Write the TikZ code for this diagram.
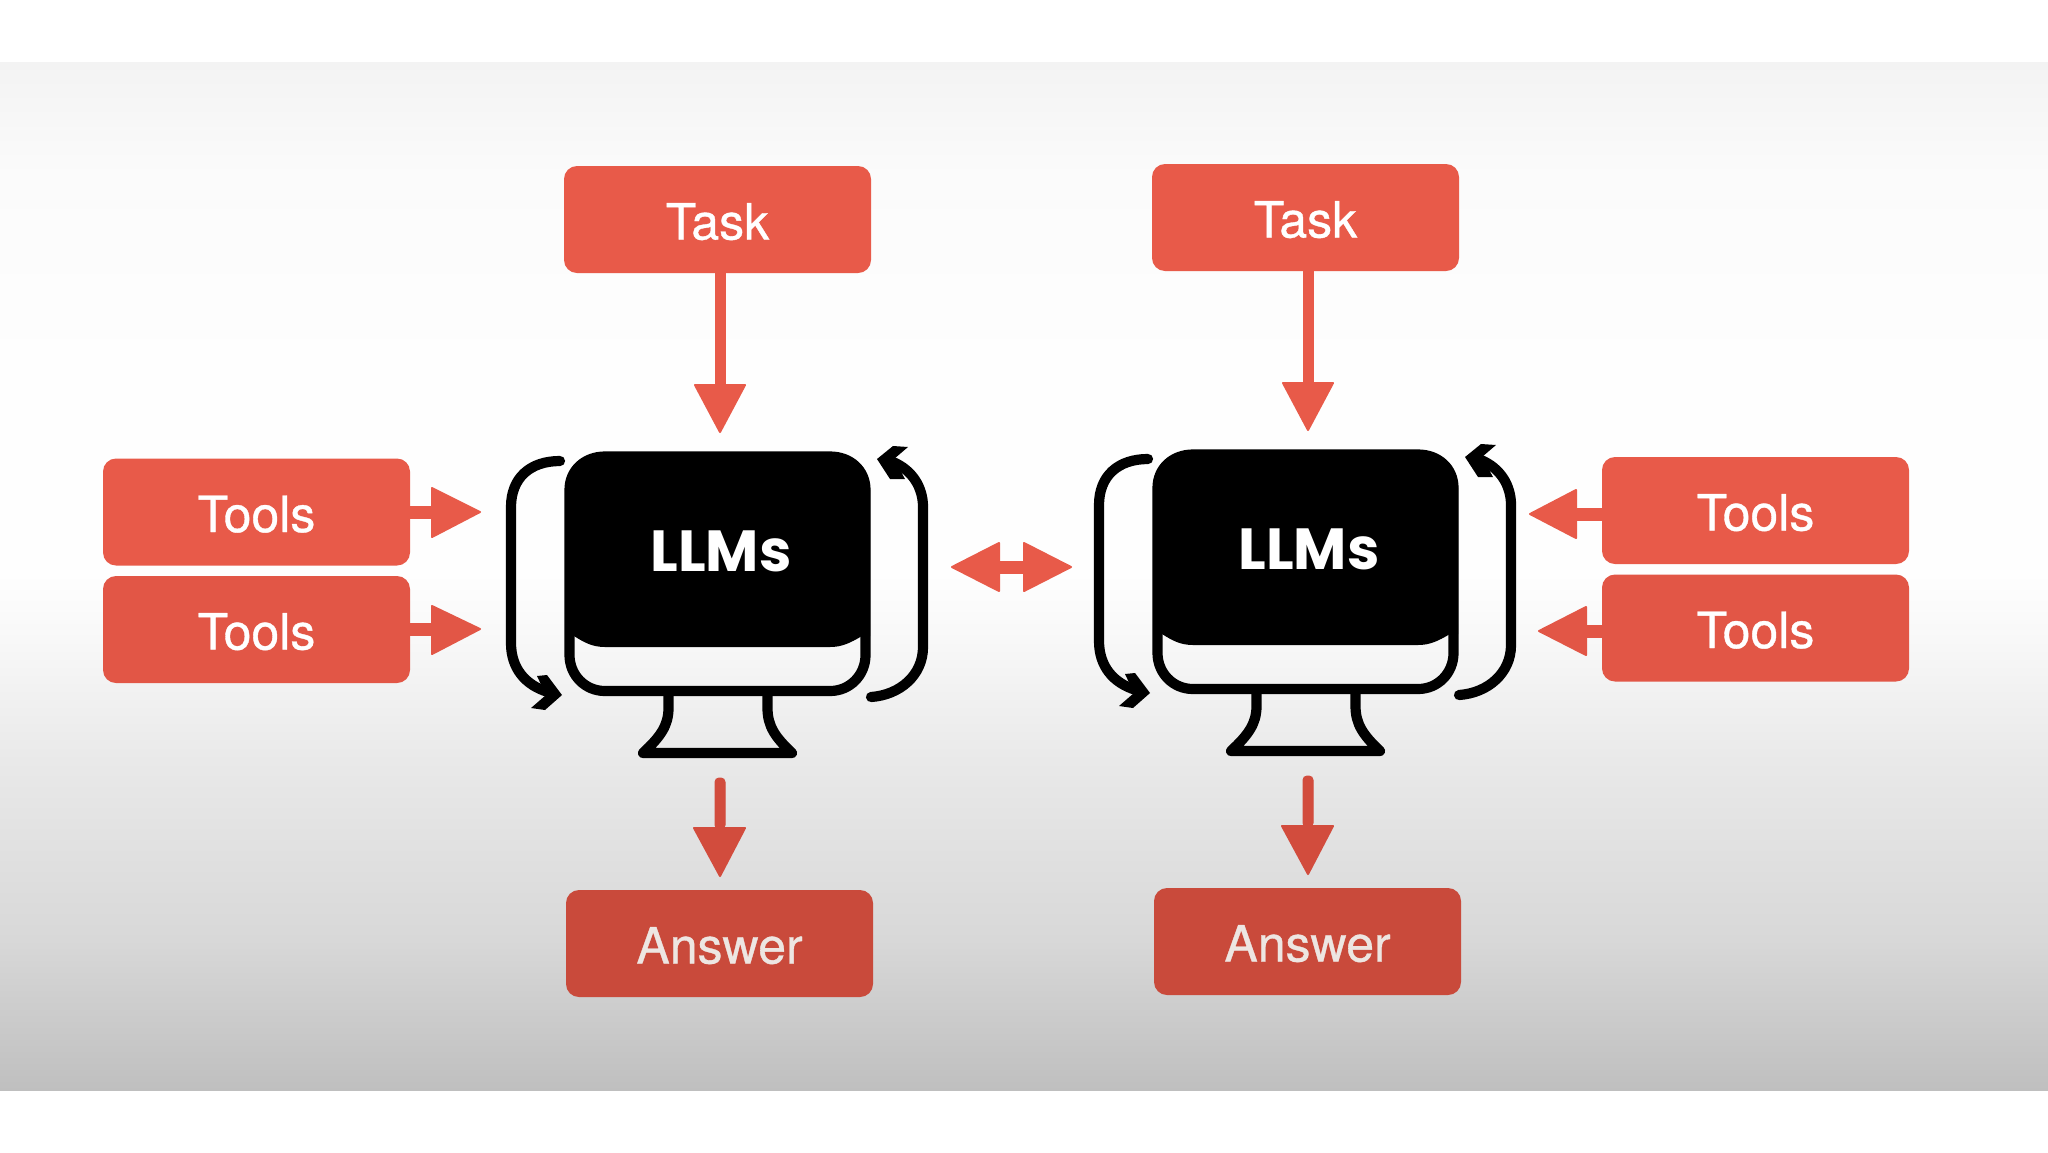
\documentclass[tikz,border=0pt]{standalone}
\usepackage{fontspec}
\setmainfont{TeX Gyre Heros}[RawFeature={embolden=0.7}]
\newfontfamily\llmfont{Poppins}[BoldFont=* Bold]
\usetikzlibrary{calc}
\definecolor{redA}{HTML}{E85A49}
\definecolor{redB}{HTML}{E25646}
\definecolor{redC}{HTML}{C94A3B}
\definecolor{redD}{HTML}{D24C3D}
\definecolor{ansText}{HTML}{EDE6E2}
\definecolor{gA}{HTML}{F3F3F3}
\definecolor{gB}{HTML}{FBFBFB}
\definecolor{gC}{HTML}{FEFEFE}
\definecolor{gD}{HTML}{FEFEFE}
\definecolor{gE}{HTML}{F8F8F8}
\definecolor{gF}{HTML}{E9E9E9}
\definecolor{gG}{HTML}{D8D8D8}
\definecolor{gH}{HTML}{BFBFBF}
\pgfdeclareverticalshading{bandshade}{100bp}{
  color(0bp)=(gH); color(25bp)=(gH); color(32.3bp)=(gG); color(41.05bp)=(gF);
  color(46.9bp)=(gE); color(50.15bp)=(gD); color(60bp)=(gC); color(69.45bp)=(gB);
  color(75bp)=(gA); color(100bp)=(gA)}
\tikzset{
  x=0.5pt,y=-0.5pt,
  redbox/.style={fill=#1,rounded corners=6.5pt,minimum width=153.5pt,minimum height=53.5pt,inner sep=0pt,text height=20pt,text depth=0pt,text=white,font=\fontsize{25}{30}\selectfont},
  ansbox/.style={redbox=redC,text=ansText},
  redshaft/.style={draw=#1,fill=#1,line width=0.5pt,line join=round},
  redhead/.style={fill=#1,draw=#1,line width=1pt,line join=round},
  ink/.style={draw=black,line width=5.1pt,line cap=round,line join=round},
  screenlabel/.style={text=white,inner sep=0pt,font=\llmfont\bfseries\fontsize{29}{33}\selectfont},
}
\newcommand{\monitor}[3]{%
 \begin{scope}[shift={(#2,#3)}]
  \draw[ink] (569.5,490) .. controls (569.5,470) and (585,456.5) .. (605,456.5) -- (830,456.5)
     .. controls (850,456.5) and (865.5,470) .. (865.5,490) -- (865.5,655)
     .. controls (865.5,675) and (850,691) .. (830,691) -- (605,691)
     .. controls (585,691) and (569.5,675) .. (569.5,655) -- cycle;
  \fill[black] (565,490) .. controls (565,470) and (585,452) .. (605,452) -- (830,452)
     .. controls (850,452) and (870,470) .. (870,490) -- (870,636) -- (862,636)
     .. controls (850,643) and (842,647) .. (830,647) -- (605,647)
     .. controls (593,647) and (585,643) .. (574,636) -- (565,636) -- cycle;
  \node[screenlabel] (#1) at (721,551) {LLMs};
  \draw[ink,line cap=butt] (668.5,691) -- (668.5,708) .. controls (668.5,726) and (660,737) .. (643,753) -- (792,753)
     .. controls (775,737) and (767.5,726) .. (767.5,708) -- (767.5,691);
  \draw[ink] (560,461) .. controls (530,461) and (511,478) .. (511,507) -- (511,643)
     .. controls (511,668) and (525,685) .. (548,692);
  \fill[black] (537,676) -- (547,675) -- (562,695) -- (545,710) -- (531,708) -- (546,695) -- cycle;
  \draw[ink] (871,697) .. controls (900,695) and (923,675) .. (923,647) -- (923,507)
     .. controls (923,487) and (912,470) .. (893,462);
  \fill[black] (877,459) -- (893,446) -- (908,447) -- (894,459) -- (905,479) -- (890,479) -- cycle;
 \end{scope}}
\begin{document}
\begin{tikzpicture}
\useasboundingbox (0,0) rectangle (2048,1152);
\fill[white] (0,0) rectangle (2048,1152);
\shade[shading=bandshade] (0,62) rectangle (2048,1090);
\node[redbox=redA] (task1) at (717.5,219.5) {Task};
\node[redbox=redA] (task2) at (1305.5,217.5) {Task};
\node[redbox=redA] (toolsL1) at (256.5,512) {Tools};
\node[redbox=redB] (toolsL2) at (256.5,629.5) {Tools};
\node[redbox=redA] (toolsR1) at (1755.5,510.5) {Tools};
\node[redbox=redB] (toolsR2) at (1755.5,628) {Tools};
\node[ansbox] (ans1) at (719.5,943.5) {Answer};
\node[ansbox] (ans2) at (1307.5,941.5) {Answer};
\monitor{llm1}{0}{0}
\monitor{llm2}{588}{-2}
\coordinate (t1h) at (720,386);
\coordinate (t2h) at (1308,384);
\coordinate (a1s) at (720,778);
\coordinate (a1h) at (720,829);
\coordinate (a2s) at (1308,776);
\coordinate (a2h) at (1308,827);
\coordinate (r1h) at (1576,514);
\coordinate (r2h) at (1586,631);
\coordinate (l1h) at (433,512);
\coordinate (l2h) at (433,629.5);
\coordinate (dl) at (999,567);
\coordinate (dr) at (1024,567);
% task arrows
\draw[redshaft=redA] ($(task1.south -| t1h)+(-5,-2)$) rectangle ($(t1h)+(5,0)$);
\draw[redhead=redA] (695,385) -- (745,385) -- (720,432) -- cycle;
\draw[redshaft=redA] ($(task2.south -| t2h)+(-5,-2)$) rectangle ($(t2h)+(5,0)$);
\draw[redhead=redA] (1283,383) -- (1333,383) -- (1308,430) -- cycle;
% answer arrows
\draw[redshaft=redD,rounded corners=2pt] ($(a1s)+(-5,0)$) rectangle ($(a1h)+(5,0)$);
\draw[redhead=redD] (694,828) -- (745,828) -- (720,876) -- cycle;
\draw[redshaft=redD,rounded corners=2pt] ($(a2s)+(-5,0)$) rectangle ($(a2h)+(5,0)$);
\draw[redhead=redD] (1282,826) -- (1333,826) -- (1308,874) -- cycle;
% tools arrows
\draw[redshaft=redA] ($(toolsL1.east)+(-2,-6)$) rectangle ($(l1h)+(0,6)$);
\draw[redhead=redA] (432,488) -- (480,512) -- (432,537) -- cycle;
\draw[redshaft=redB] ($(toolsL2.east)+(-2,-6)$) rectangle ($(l2h)+(0,6)$);
\draw[redhead=redB] (432,606) -- (480,629) -- (432,654) -- cycle;
\draw[redshaft=redA] ($(toolsR1.west |- r1h)+(2,-6)$) rectangle ($(r1h)+(0,6)$);
\draw[redhead=redA] (1576,490) -- (1530,514) -- (1576,538) -- cycle;
\draw[redshaft=redB] ($(toolsR2.west |- r2h)+(2,-6)$) rectangle ($(r2h)+(0,6)$);
\draw[redhead=redB] (1586,607) -- (1539,631) -- (1586,655) -- cycle;
% double arrow
\draw[redshaft=redA] ($(dl)+(0,-6)$) rectangle ($(dr)+(0,6)$);
\draw[redhead=redA] (999,543) -- (952,567) -- (999,591) -- cycle;
\draw[redhead=redA] (1024,543) -- (1071,567) -- (1024,591) -- cycle;
\end{tikzpicture}
\end{document}
